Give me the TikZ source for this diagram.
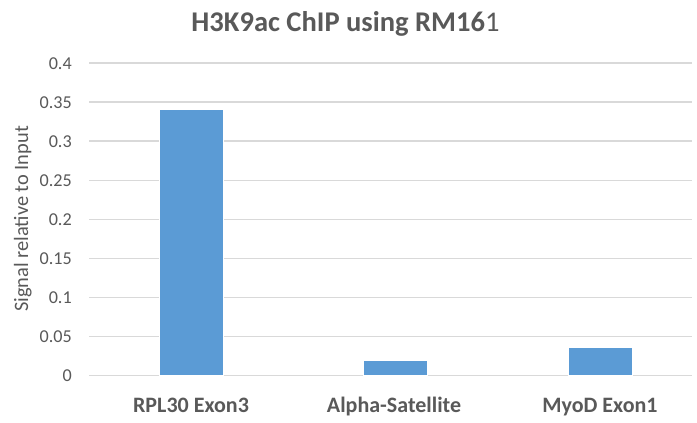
\documentclass[tikz,border=0pt]{standalone}
\usepackage{fontspec}
\setmainfont{Carlito}
\usepackage{tikz}

\definecolor{txtgray}{HTML}{595959}
\definecolor{gridgray}{HTML}{D9D9D9}
\definecolor{barblue}{HTML}{5B9BD5}

\tikzset{
  ticklabel/.style={anchor=base east,inner sep=0pt,text=txtgray,font=\fontsize{13.6}{14}\selectfont},
  catlabel/.style={anchor=base,inner sep=0pt,text=txtgray,font=\bfseries\fontsize{16.5}{18}\selectfont},
  gridline/.style={draw=gridgray,line width=0.9pt},
  bar/.style={fill=barblue,draw=white,line width=0.4pt}
}

\begin{document}
\begin{tikzpicture}[x=0.75pt,y=-0.75pt]
      \useasboundingbox[fill=white] (0,0) rectangle (697,423);
      % gridlines
      \path[gridline] (89,63) -- (692,63);
      \path[gridline] (89,102.1) -- (692,102.1);
      \path[gridline] (89,141.1) -- (692,141.1);
      \path[gridline] (89,180.2) -- (692,180.2);
      \path[gridline] (89,219.25) -- (692,219.25);
      \path[gridline] (89,258.3) -- (692,258.3);
      \path[gridline] (89,297.4) -- (692,297.4);
      \path[gridline] (89,336.4) -- (692,336.4);
      \path[gridline] (89,375.5) -- (692,375.5);
      % bars
      \path[bar] (159,375.5) rectangle (223,109);
      \path[bar] (363,375.5) rectangle (427,360);
      \path[bar] (568,375.5) rectangle (632,347);
      % tick labels
      \node[ticklabel] (y40) at (72,69.3) {0.4};
      \node[ticklabel] (y35) at (72,108.4) {0.35};
      \node[ticklabel] (y30) at (72,147.4) {0.3};
      \node[ticklabel] (y25) at (72,186.5) {0.25};
      \node[ticklabel] (y20) at (72,225.55) {0.2};
      \node[ticklabel] (y15) at (72,264.6) {0.15};
      \node[ticklabel] (y10) at (72,303.7) {0.1};
      \node[ticklabel] (y05) at (72,342.7) {0.05};
      \node[ticklabel] (y00) at (72,381.8) {0};
      % categories
      \node[catlabel] (rpl)   at (191,413) {RPL30 Exon3};
      \node[catlabel] (alpha) at (394,413) {Alpha-Satellite};
      \node[catlabel] (myod)  at (600,413) {MyoD Exon1};
      % titles
      \node[anchor=base,rotate=90,inner sep=0pt,text=txtgray,font=\fontsize{15.3}{17}\selectfont] (ytitle) at (28,219) {Signal relative to Input};
      \node[anchor=base,inner sep=0pt,text=txtgray,font=\fontsize{21.4}{24}\selectfont] (title) at (345.5,32) {\textbf{H3K9ac ChIP using RM16}1};
\end{tikzpicture}
\end{document}
